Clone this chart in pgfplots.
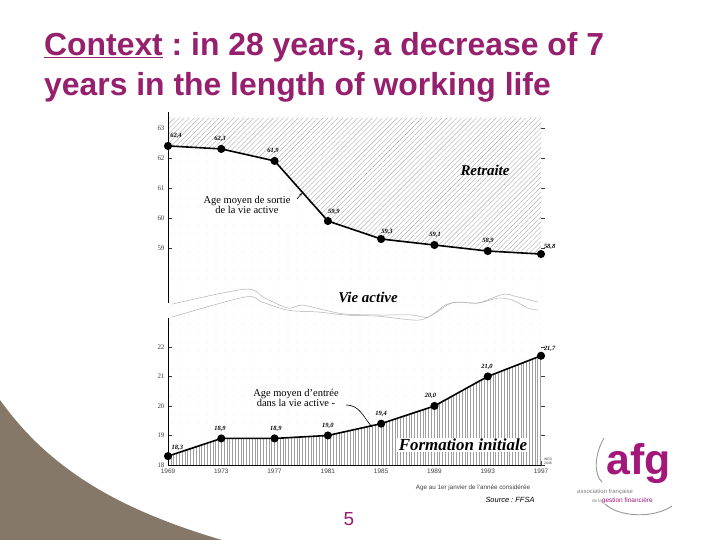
\documentclass[border=0pt]{standalone}
\usepackage{pgfplots}
\pgfplotsset{compat=1.18}
\usepackage{fontspec}
\setmainfont{Liberation Serif}
\setsansfont{Liberation Sans}
\usetikzlibrary{patterns.meta,arrows.meta}
\definecolor{titlepurple}{HTML}{961F6E}
\definecolor{afgpurple}{HTML}{A3177B}
\definecolor{taupe}{HTML}{857868}
\frenchspacing
\begin{document}
\begin{tikzpicture}[x=1bp,y=1bp]
\path[use as bounding box, fill=white] (0,0) rectangle (720,540);
% decorative shape bottom-left
\fill[taupe] (0,140) .. controls (50,70) and (120,30) .. (222,0) -- (0,0) -- cycle;
% title
\node[anchor=base west, text=titlepurple, font=\sffamily\bfseries\fontsize{32}{38}\selectfont, inner sep=0pt] at (44,484) {\underline{Context} : in 28 years, a decrease of 7};
\node[anchor=base west, text=titlepurple, font=\sffamily\bfseries\fontsize{32}{38}\selectfont, inner sep=0pt] at (44,444) {years in the length of working life};

% ---------- upper axis: age at exit of working life ----------
\begin{axis}[at={(168bp,237bp)}, anchor=south west, scale only axis,
  width=377bp, height=191bp,
  xmin=1969, xmax=1997.3, ymin=57.17, ymax=63.53,
  clip=false, axis line style={draw=none},
  xtick=\empty, ytick={59,60,61,62,63}, ytick pos=both,
  tick align=inside, major tick length=4bp,
  tick style={black!80, line width=0.4bp},
  yticklabel style={font=\fontsize{7}{7}\selectfont, text=black!75},
  /pgf/number format/assume math mode=true]
\addplot[draw=none, pattern={Dots[distance=9bp, radius=0.45bp]}, pattern color=gray!60]
  coordinates {(1969,63.53) (1997.3,63.53) (1997.3,56.67) (1969,56.67)} -- cycle;
\addplot[draw=none, fill=white, postaction={pattern={Lines[angle=45,distance=3.5bp,line width=0.4bp]}, pattern color=gray!65}]
  coordinates {(1969,62.4) (1973,62.3) (1977,61.9) (1981,59.9) (1985,59.3) (1989,59.1) (1993,58.9) (1997,58.8) (1997,63.33) (1969,63.33)} -- cycle;
\addplot[gray!60, line width=0.5bp, smooth] coordinates {
  (1969.3,57.13) (1974.78,57.63) (1976.28,57.33) (1978.01,57.00) (1979.06,57.10) (1980.79,56.93)
  (1982.29,56.80) (1984.77,56.77) (1987.32,56.77) (1988.52,56.70) (1989.80,57.10) (1990.77,57.20)
  (1992.27,57.17) (1993.55,57.37) (1994.30,57.47) (1995.28,57.37) (1996.78,57.20)};
\addplot[gray!60, line width=0.5bp, smooth] coordinates {
  (1969.3,56.70) (1974.78,57.37) (1976.06,57.20) (1978.01,56.93) (1980.26,56.87) (1982.29,56.77)
  (1984.77,56.73) (1987.77,56.60) (1989.05,56.83) (1990.32,57.17) (1992.27,57.17) (1993.77,57.33)
  (1994.83,57.27) (1996.03,57.00) (1996.78,56.93)};
\addplot[black, line width=1.6bp, mark=*, mark size=3.2bp] coordinates {
  (1969,62.4) (1973,62.3) (1977,61.9) (1981,59.9) (1985,59.3) (1989,59.1) (1993,58.9) (1997,58.8)};
\draw[black, line width=0.7bp] (rel axis cs:0,0) -- (rel axis cs:0,1);
\begin{scope}[font=\bfseries\itshape\fontsize{6.5}{7}\selectfont]
\node at (axis cs:1969.60,62.73) {62,4};
\node at (axis cs:1972.90,62.63) {62,3};
\node at (axis cs:1976.88,62.23) {61,9};
\node at (axis cs:1981.45,60.20) {59,9};
\node at (axis cs:1985.44,59.53) {59,3};
\node at (axis cs:1989.05,59.43) {59,1};
\node at (axis cs:1993.02,59.23) {58,9};
\node at (axis cs:1997.65,59.03) {58,8};
\end{scope}
\end{axis}

% ---------- lower axis: age at entry into working life ----------
\begin{axis}[at={(168bp,75bp)}, anchor=south west, scale only axis,
  width=377bp, height=147bp,
  xmin=1969, xmax=1997.3, ymin=18, ymax=22.98,
  clip=false, axis line style={draw=none},
  xtick={1969,1973,1977,1981,1985,1989,1993,1997}, xtick pos=left,
  ytick={18,19,20,21,22}, ytick pos=both,
  tick align=inside, major tick length=4bp,
  tick style={black!80, line width=0.4bp},
  yticklabel style={font=\fontsize{7}{7}\selectfont, text=black!75},
  xticklabel style={font=\sffamily\fontsize{6.5}{7}\selectfont, text=black!75},
  /pgf/number format/1000 sep={},
  /pgf/number format/assume math mode=true]
\addplot[draw=none, pattern={Dots[distance=9bp, radius=0.45bp]}, pattern color=gray!60]
  coordinates {(1969,22.98) (1997.3,22.98) (1997.3,18) (1969,18)} -- cycle;
\addplot[draw=none, fill=white, postaction={pattern={Lines[angle=90,distance=2.8bp,line width=0.4bp]}, pattern color=gray!75}]
  coordinates {(1969,18.3) (1973,18.9) (1977,18.9) (1981,19.0) (1985,19.4) (1989,20.0) (1993,21.0) (1997,21.7) (1997,18) (1969,18)} -- cycle;
\addplot[black, line width=1.6bp, mark=*, mark size=3.2bp] coordinates {
  (1969,18.3) (1973,18.9) (1977,18.9) (1981,19.0) (1985,19.4) (1989,20.0) (1993,21.0) (1997,21.7)};
\draw[black, line width=0.7bp] (rel axis cs:0,0) -- (rel axis cs:0,1);
\draw[black, line width=0.7bp] (axis cs:1969,18) -- (axis cs:1997,18);
\begin{scope}[font=\bfseries\itshape\fontsize{6.5}{7}\selectfont]
\node at (axis cs:1969.70,18.58) {18,3};
\node at (axis cs:1972.90,19.22) {18,9};
\node at (axis cs:1977.10,19.22) {18,9};
\node at (axis cs:1981.00,19.34) {19,0};
\node at (axis cs:1985.00,19.72) {19,4};
\node at (axis cs:1988.70,20.33) {20,0};
\node at (axis cs:1992.95,21.34) {21,0};
\node at (axis cs:1997.65,21.95) {21,7};
\end{scope}
\end{axis}

% chart annotations
\node[font=\bfseries\itshape\fontsize{15}{16}\selectfont] at (485,370) {Retraite};
\node[font=\bfseries\itshape\fontsize{15}{16}\selectfont] at (368,243) {Vie active};
\node[fill=white, inner sep=1.5bp, font=\bfseries\itshape\fontsize{17}{18}\selectfont] at (463,95) {Formation initiale};
\node[align=center, font=\fontsize{10.5}{10.5}\selectfont] at (247,335) {Age moyen de sortie\\de la vie active};
\draw[-{Stealth[length=3bp]}, line width=0.6bp] (297,341) -- (302,347);
\node[align=center, font=\fontsize{10.5}{10.5}\selectfont] at (296,142) {Age moyen d'entrée\\dans la vie active -};
\draw[-{Stealth[length=3bp]}, line width=0.6bp] (346,135) to[out=0,in=130] (372,113);
\node[align=center, font=\sffamily\fontsize{3.5}{3.8}\selectfont, text=black!70] at (548,79) {INED\\2048};
\node[font=\sffamily\fontsize{6.3}{7}\selectfont, text=black!75] at (473,52) {Age au 1er janvier de l'année considérée};
\node[font=\sffamily\itshape\fontsize{7.5}{8}\selectfont] at (510,40) {Source : FFSA};
% slide number
\node[font=\sffamily\fontsize{19}{20}\selectfont, text=titlepurple] at (349,21) {5};
% logo
\node[anchor=base west, inner sep=0pt, font=\sffamily\bfseries\fontsize{43}{44}\selectfont, text=afgpurple] at (606,65) {afg};
\node[anchor=base west, inner sep=0pt, font=\sffamily\fontsize{6}{6}\selectfont, text=gray] at (577,46) {association française};
\node[anchor=base west, inner sep=0pt, font=\sffamily\fontsize{6.5}{7}\selectfont] at (592,37) {\textcolor{gray}{\fontsize{4.5}{5}\selectfont de la}\textcolor{afgpurple}{gestion financière}};
\draw[gray!80, line width=0.9bp] (604,102) .. controls (594,85) and (594,65) .. (602,58);
\draw[gray!80, line width=0.9bp] (605,36) .. controls (620,22) and (655,22) .. (672,34);
\end{tikzpicture}
\end{document}
